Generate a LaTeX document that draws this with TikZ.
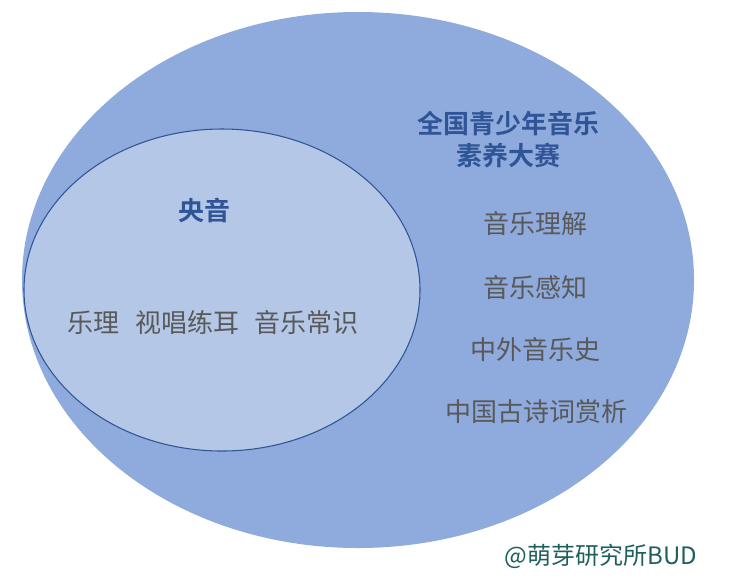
\documentclass[tikz,border=0pt]{standalone}
\usepackage{fontspec}
\newfontfamily\cjk{Noto Sans CJK SC}[BoldFont={Noto Sans CJK SC Bold}]
\usepackage{xcolor}
\definecolor{outerblue}{HTML}{8FAADC}
\definecolor{innerblue}{HTML}{B4C7E7}
\definecolor{edgeblue}{HTML}{2F5597}
\definecolor{textgray}{HTML}{595959}
\definecolor{markteal}{HTML}{1F5F5E}
\tikzset{
    title/.style={text=edgeblue, font=\cjk\bfseries\fontsize{19.5}{26}\selectfont, align=center},
    item/.style={text=textgray, font=\cjk\fontsize{19.5}{26}\selectfont},
}

\begin{document}
\begin{tikzpicture}[x=0.75pt, y=-0.75pt]

    \useasboundingbox (0,0) rectangle (730,587);

    % the two sets
    \fill[outerblue] (358,280) ellipse [x radius=336, y radius=268];
    \draw[edgeblue, fill=innerblue, line width=0.8pt] (222,290) ellipse [x radius=198, y radius=161];

    % inner set
    \node[title] (yy) at (204,210) {央音};
    \node[item] (yyitems) at (213,323) {乐理\hspace{0.6em}视唱练耳\hspace{0.6em}音乐常识};

    % outer set
    \node[title] (contest) at (508,140) {全国青少年音乐\\[-2pt]素养大赛};
    \node[item] (understand) at (535,224) {音乐理解};
    \node[item] (perceive) at (535,288) {音乐感知};
    \node[item] (history) at (535,350) {中外音乐史};
    \node[item] (poetry) at (536,412) {中国古诗词赏析};

    \node[text=markteal, font=\cjk\fontsize{18}{22}\selectfont] (mark) at (601,556) {@萌芽研究所BUD};

\end{tikzpicture}
\end{document}
